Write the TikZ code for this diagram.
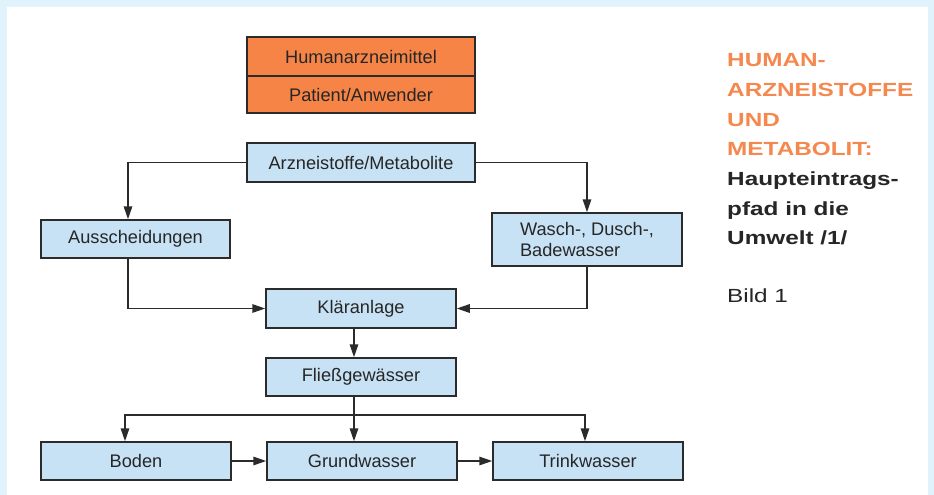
\documentclass[tikz,border=0pt]{standalone}
\usepackage{fontspec}
\setmainfont{Liberation Sans}
\newfontfamily\sidefont[FakeStretch=1.28]{Liberation Sans}
\usetikzlibrary{arrows.meta}
\definecolor{bgblue}{HTML}{E0F2FC}
\definecolor{boxblue}{HTML}{C8E2F5}
\definecolor{boxorange}{HTML}{F58446}
\definecolor{txtorange}{HTML}{F5884F}
\definecolor{linegray}{HTML}{2B2B2B}
\definecolor{txtgray}{HTML}{262626}
\begin{document}
\begin{tikzpicture}[x=1pt,y=-1pt,
  box/.style={draw=linegray, line width=1.5pt, fill=boxblue, minimum width=190pt, minimum height=38pt, inner sep=0pt, font=\fontsize{18.2}{21}\selectfont, text=txtgray},
  obox/.style={box, fill=boxorange, minimum width=228pt},
  conn/.style={draw=linegray, line width=1.5pt},
  arr/.style={conn, -{Triangle[length=13pt,width=8.5pt]}},
  sidetxt/.style={anchor=base west, inner sep=0pt, font=\sidefont\fontsize{19}{29.7}\selectfont},
  sidehead/.style={sidetxt, text=txtorange, font=\sidefont\bfseries\fontsize{19}{29.7}\selectfont},
  sidesub/.style={sidetxt, text=txtgray, font=\sidefont\bfseries\fontsize{19}{29.7}\selectfont}]
\useasboundingbox (0,0) rectangle (934,495);
\fill[bgblue] (0,0) rectangle (934,495);
\fill[white] (7,7) rectangle (928,495);

% boxes
\node[obox, minimum height=39pt] (human) at (361,56.5) {Humanarzneimittel};
\node[obox, minimum height=37pt] (patient) at (361,94.5) {Patient/Anwender};
\node[box, minimum width=228pt, minimum height=39pt] (arz) at (361,162.5) {Arzneistoffe/Metabolite};
\node[box, minimum width=189pt] (aus) at (135.5,239) {Ausscheidungen};
\node[box, minimum height=53pt, align=left] (wasch) at (587,239.5) {Wasch-, Dusch-,\\Badewasser};
\node[box, minimum height=39pt] (klaer) at (361,308.5) {Kläranlage};
\node[box] (fliess) at (361,377) {Fließgewässer};
\node[box] (boden) at (136,461) {Boden};
\node[box] (grund) at (362,461) {Grundwasser};
\node[box] (trink) at (588,461) {Trinkwasser};

% guide coordinates
\coordinate (ausx) at (128,0);
\coordinate (waschx) at (587,0);
\coordinate (cx) at (354,0);
\coordinate (bx) at (125,0);
\coordinate (tx) at (585,0);
\coordinate (by) at (0,415);

% connectors
\draw[arr] (arz.west) -| (aus.north -| ausx);
\draw[arr] (arz.east) -| (wasch.north -| waschx);
\draw[arr] (aus.south -| ausx) |- (klaer.west);
\draw[arr] (wasch.south -| waschx) |- (klaer.east);
\draw[arr] (klaer.south -| cx) -- (fliess.north -| cx);
\draw[conn] (fliess.south -| cx) -- (cx |- by);
\draw[arr] (cx |- by) -- (grund.north -| cx);
\draw[arr] (cx |- by) -| (boden.north -| bx);
\draw[arr] (cx |- by) -| (trink.north -| tx);
\draw[arr] (boden.east) -- (grund.west);
\draw[arr] (grund.east) -- (trink.west);

% side text
\node[sidehead] (t1) at (727,66.7) {HUMAN-};
\node[sidehead] (t2) at (727,96.4) {ARZNEISTOFFE};
\node[sidehead] (t3) at (727,126.1) {UND};
\node[sidehead] (t4) at (727,155.8) {METABOLIT:};
\node[sidesub] (t5) at (727,185.5) {Haupteintrags-};
\node[sidesub] (t6) at (727,215.2) {pfad in die};
\node[sidesub] (t7) at (727,244.9) {Umwelt /1/};
\node[sidetxt, text=txtgray] (t8) at (727,302) {Bild 1};
\end{tikzpicture}
\end{document}
